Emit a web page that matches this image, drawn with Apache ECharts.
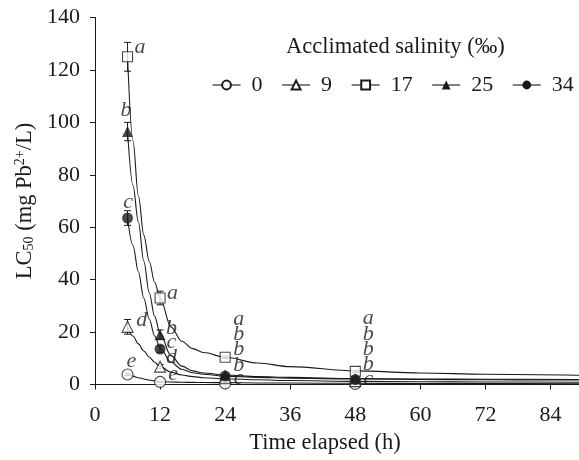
<!DOCTYPE html>
<html>
<head>
<meta charset="utf-8">
<script src="https://cdn.jsdelivr.net/npm/echarts@6/dist/echarts.min.js"></script>
<style>html,body{margin:0;padding:0;background:#fff}#c{width:579px;height:460px}</style>
</head>
<body>
<div id="c"></div>
<script>
// ---- data ----
const salinities = ['0', '9', '17', '25', '34'];
const hours = [6, 12, 24, 48];
const lc0  = [3.8, 1.0, 0.4, 0.2];
const lc9  = [22, 6.8, 2.6, 1.3];
const lc17 = [125, 33, 10.4, 5.0];
const lc25 = [96.5, 19, 3.6, 2.2];
const lc34 = [63.5, 13.5, 3.2, 1.9];
const err0  = [0.3, 0.2, 0.1, 0.1];
const err9  = [2.8, 0.8, 0.3, 0.2];
const err17 = [5.5, 2.6, 0.5, 0.4];
const err25 = [3.5, 1.8, 0.4, 0.3];
const err34 = [2.8, 1.2, 0.4, 0.3];
// fitted curves
const curveX   = [6, 7, 8, 9, 10, 11, 12, 14, 16, 18, 20, 24, 30, 36, 48, 60, 72, 89.25];
const curve0   = [3.8, 3.2, 2.6, 2.1, 1.7, 1.4, 1.15, 0.95, 0.85, 0.8, 0.75, 0.7, 0.6, 0.55, 0.45, 0.4, 0.35, 0.3];
const curve9   = [22, 18.5, 15.5, 12.8, 10.5, 8.5, 6.9, 4.7, 3.6, 3.0, 2.6, 2.2, 1.8, 1.5, 1.2, 1.05, 0.95, 0.85];
const curve17  = [125, 93, 72, 57, 47, 39, 33, 22, 16.5, 13.7, 12.2, 10.4, 8.2, 6.8, 5.2, 4.4, 3.9, 3.5];
const curve25  = [96.5, 76, 62, 47, 35, 26, 19.5, 11, 7, 5.2, 4.4, 3.6, 3.0, 2.7, 2.3, 2.1, 2.0, 1.9];
const curve34  = [63.5, 53, 43, 33, 25, 18.5, 14, 8.5, 5.8, 4.5, 3.9, 3.2, 2.7, 2.4, 2.1, 1.9, 1.8, 1.7];
// significance letters (position in data units)
const letterX = [8.3, 5.7, 6.1, 8.6, 6.7,  14.3, 14.1, 14.1, 14.1, 14.4,  26.5, 26.5, 26.5, 26.5, 26.5,  50.4, 50.4, 50.4, 50.4, 50.4];
const letterY = [128.8, 104.5, 69.5, 24.5, 8.8,  34.8, 21.3, 16.2, 10.3, 4.0,  25, 19.3, 13.4, 7.2, 2.4,  25.2, 19.1, 13.6, 7.7, 2.0];
const letters = ['a','b','c','d','e', 'a','b','c','d','e', 'a','b','b','b','c', 'a','b','b','b','c'];
const xTicks = [0, 12, 24, 36, 48, 60, 72, 84];

const INK = '#1a1a1a';
const FONT = '"Liberation Serif", "DejaVu Serif", serif';
const symbols = ['emptyCircle', 'emptyTriangle', 'emptyRect', 'triangle', 'circle'];
const pointSets = [lc0, lc9, lc17, lc25, lc34];
const errSets = [err0, err9, err17, err25, err34];
const curveSets = [curve0, curve9, curve17, curve25, curve34];

const series = [];
salinities.forEach((s, i) => {
  series.push({
    name: s, type: 'line', smooth: 0.35, smoothMonotone: 'x',
    symbol: symbols[i], symbolSize: 9, showSymbol: false,
    data: curveX.map((x, k) => [x, curveSets[i][k]]),
    lineStyle: { color: INK, width: 1.1 },
    itemStyle: { color: INK, borderColor: INK },
    z: 2, silent: true
  });
});
salinities.forEach((s, i) => {
  series.push({
    type: 'custom', z: 3, silent: true,
    data: hours.map((h, k) => [h, pointSets[i][k], errSets[i][k]]),
    renderItem: (params, api) => {
      const x = api.value(0), y = api.value(1), e = api.value(2);
      const t = api.coord([x, y + e]);
      const b = api.coord([x, Math.max(0, y - e)]);
      const w = 3.5;
      const st = { stroke: INK, lineWidth: 1 };
      return { type: 'group', children: [
        { type: 'line', shape: { x1: t[0], y1: t[1], x2: b[0], y2: b[1] }, style: st },
        { type: 'line', shape: { x1: t[0] - w, y1: t[1], x2: t[0] + w, y2: t[1] }, style: st },
        { type: 'line', shape: { x1: b[0] - w, y1: b[1], x2: b[0] + w, y2: b[1] }, style: st }
      ]};
    }
  });
});
salinities.forEach((s, i) => {
  const empty = symbols[i].indexOf('empty') === 0;
  series.push({
    type: 'scatter', z: 4, silent: true,
    symbol: empty ? symbols[i].replace('empty', '').toLowerCase() : symbols[i],
    symbolSize: symbols[i].indexOf('Rect') > 0 ? 10 : 11,
    data: hours.map((h, k) => [h, pointSets[i][k]]),
    itemStyle: empty ? { color: '#fff', borderColor: INK, borderWidth: 1.1 } : { color: INK }
  });
});
series.push({
  type: 'scatter', z: 5, silent: true, symbolSize: 0,
  data: letterX.map((x, k) => [x, letterY[k], letters[k]]),
  label: {
    show: true, position: 'inside', formatter: p => p.value[2],
    fontFamily: FONT, fontStyle: 'italic', fontSize: 22, color: INK
  }
});

const chart = echarts.init(document.getElementById('c'));
chart.setOption({
  animation: false,
  backgroundColor: '#fff',
  title: {
    text: 'Acclimated salinity (‰)', left: 281, top: 31,
    textStyle: { fontFamily: FONT, fontWeight: 'normal', fontSize: 22.5, color: INK }
  },
  legend: {
    data: salinities, left: 207, top: 69, itemWidth: 28, itemHeight: 11, itemGap: 19,
    textStyle: { fontFamily: FONT, fontSize: 22, color: INK, padding: [0, 0, 0, 6] },
    lineStyle: { color: INK, width: 1.1 }
  },
  grid: { left: 95, right: 0, top: 17.5, bottom: 75.5, containLabel: false },
  xAxis: {
    type: 'value', min: 0, max: 89.25, interval: 12,
    name: 'Time elapsed (h)', nameLocation: 'middle', nameGap: 47,
    nameTextStyle: { fontFamily: FONT, fontSize: 22.5, color: INK, padding: [0, 24, 0, 0] },
    axisLine: { lineStyle: { color: INK, width: 1 } },
    axisTick: { length: 5, lineStyle: { color: INK } },
    axisLabel: { fontFamily: FONT, fontSize: 22, color: INK, margin: 20, showMaxLabel: false,
      formatter: v => (xTicks.indexOf(v) >= 0 ? String(v) : '') },
    splitLine: { show: false }
  },
  yAxis: {
    type: 'value', min: 0, max: 140, interval: 20,
    name: '{n|LC}{s|50}{n| (mg Pb}{p|2+}{n|/L)}', nameLocation: 'middle', nameGap: 58, nameRotate: 90,
    nameTextStyle: {
      rich: {
        n: { fontFamily: FONT, fontSize: 22.5, color: INK },
        s: { fontFamily: FONT, fontSize: 14, color: INK, verticalAlign: 'bottom', padding: [9, 0, 0, 0] },
        p: { fontFamily: FONT, fontSize: 14, color: INK, verticalAlign: 'top', padding: [0, 0, 9, 0] }
      }
    },
    axisLine: { show: true, lineStyle: { color: INK, width: 1 } },
    axisTick: { show: true, length: 5, lineStyle: { color: INK } },
    axisLabel: { fontFamily: FONT, fontSize: 22, color: INK, margin: 15 },
    splitLine: { show: false }
  },
  series: series
});
</script>
</body>
</html>
